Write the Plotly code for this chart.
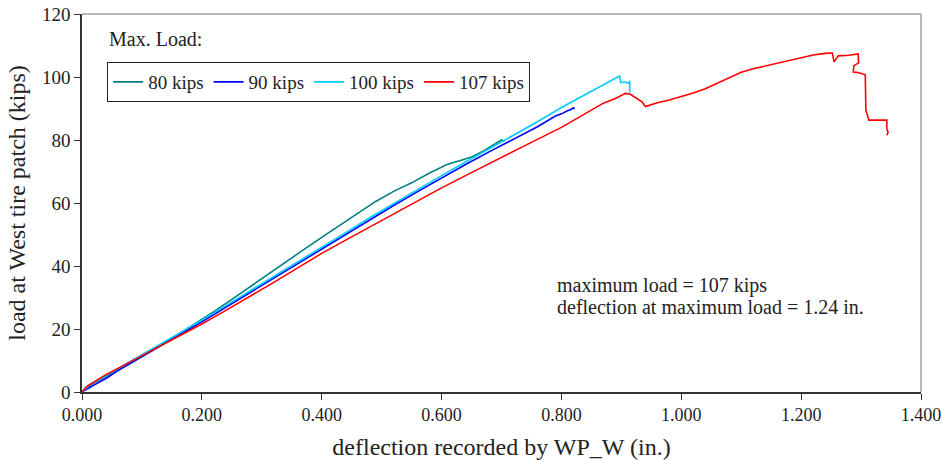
import plotly.graph_objects as go

# --- load vs deflection data ---
x_80 = [0, 0.005, 0.01, 0.02, 0.04, 0.06, 0.08, 0.1, 0.13, 0.16, 0.19, 0.22, 0.25, 0.28, 0.31,
        0.34, 0.37, 0.40, 0.43, 0.46, 0.49, 0.52, 0.55, 0.58, 0.61, 0.63, 0.65, 0.67, 0.69, 0.70, 0.705]
y_80 = [0, 0.8, 1.5, 2.8, 5, 7, 9, 11.2, 14.6, 18.2, 21.8, 25.5, 29.4, 33.4, 37.3,
        41.2, 45.2, 49.1, 52.9, 56.8, 60.5, 63.7, 66.4, 69.5, 72.3, 73.4, 74.6, 76.5, 78.8, 80, 79.6]

x_90 = [0, 0.005, 0.01, 0.02, 0.04, 0.06, 0.08, 0.1, 0.13, 0.16, 0.2, 0.24, 0.28, 0.32, 0.36,
        0.40, 0.44, 0.48, 0.52, 0.56, 0.60, 0.64, 0.68, 0.72, 0.76, 0.79, 0.80, 0.81, 0.815, 0.82, 0.822]
y_90 = [0, 0.5, 1, 2.2, 4.3, 6.8, 9, 11.2, 14.4, 17.8, 22.3, 26.9, 31.5, 36.1, 40.7,
        45.3, 50, 54.7, 59.2, 63.6, 68, 72.2, 76.3, 80.2, 84.2, 87.6, 88.3, 89.3, 89.6, 90.2, 89.8]

x_100 = [0, 0.005, 0.01, 0.02, 0.04, 0.06, 0.08, 0.1, 0.13, 0.16, 0.2, 0.24, 0.28, 0.32, 0.36,
         0.40, 0.44, 0.48, 0.52, 0.56, 0.60, 0.64, 0.68, 0.72, 0.76, 0.80, 0.84, 0.87, 0.89,
         0.897, 0.899, 0.905, 0.913, 0.914, 0.914]
y_100 = [0, 1, 1.8, 3, 5.2, 7.3, 9.4, 11.6, 14.9, 18.3, 22.8, 27.4, 32, 36.6, 41.2,
         45.9, 50.6, 55.3, 59.8, 64.3, 68.7, 73, 77.2, 81.4, 85.8, 90.3, 94.4, 97.5, 99.5,
         100.3, 98.2, 98.4, 98, 98.8, 95]

x_107 = [0, 0.005, 0.01, 0.02, 0.04, 0.06, 0.08, 0.1, 0.13, 0.16, 0.2, 0.24, 0.28, 0.32, 0.36,
         0.40, 0.44, 0.48, 0.52, 0.56, 0.60, 0.64, 0.68, 0.72, 0.76, 0.80, 0.84, 0.87, 0.89,
         0.907, 0.915, 0.925, 0.935, 0.940, 0.96, 0.98, 1.00, 1.02, 1.04, 1.06, 1.08, 1.10,
         1.12, 1.14, 1.16, 1.18, 1.20, 1.22, 1.24, 1.252, 1.255, 1.262, 1.28, 1.295, 1.296,
         1.288, 1.287, 1.295, 1.307, 1.307, 1.308, 1.313, 1.343, 1.343, 1.345, 1.343]
y_107 = [0, 1.2, 2, 3.2, 5.5, 7.5, 9.5, 11.5, 14.5, 17.6, 21.6, 25.9, 30.3, 34.8, 39.4,
         44, 48.2, 52.4, 56.6, 60.7, 64.8, 68.7, 72.6, 76.4, 80.2, 84, 88.3, 91.7, 93.2,
         94.8, 94.5, 93.3, 92, 90.6, 91.8, 92.7, 93.8, 94.9, 96.3, 98, 99.8, 101.5,
         102.6, 103.5, 104.4, 105.3, 106.2, 107, 107.5, 107.6, 104.8, 106.7, 106.9, 107.3, 104.5,
         103.6, 101.6, 101.4, 100.7, 93, 89.5, 86.3, 86.3, 83.5, 82.4, 81.5]

series = [
    ("80 kips", x_80, y_80, "#008080"),
    ("90 kips", x_90, y_90, "#0000ff"),
    ("100 kips", x_100, y_100, "#00ccff"),
    ("107 kips", x_107, y_107, "#ff0000"),
]

FONT = "Liberation Serif, Times New Roman, serif"
FS = 20

fig = go.Figure()
for name, xs, ys, col in series:
    fig.add_trace(go.Scatter(x=xs, y=ys, mode="lines", name=name,
                             line=dict(color=col, width=1.6)))

# gray frame on top and right, like the original
fig.add_shape(type="line", xref="paper", yref="paper", x0=0, x1=1, y0=1, y1=1,
              line=dict(color="#a0a0a0", width=1.5))
fig.add_shape(type="line", xref="paper", yref="paper", x0=1, x1=1, y0=0, y1=1,
              line=dict(color="#a0a0a0", width=1.5))

fig.add_annotation(xref="paper", yref="paper", x=0.03, y=0.934, xanchor="left", yanchor="middle",
                   text="Max. Load:", showarrow=False)
fig.add_annotation(xref="paper", yref="paper", x=0.564, y=0.283, xanchor="left", yanchor="middle",
                   text="maximum load = 107 kips", showarrow=False)
fig.add_annotation(xref="paper", yref="paper", x=0.564, y=0.225, xanchor="left", yanchor="middle",
                   text="deflection at maximum load = 1.24 in.", showarrow=False)

fig.update_layout(
    width=942, height=460,
    margin=dict(l=82, r=21, t=14, b=68),
    paper_bgcolor="white", plot_bgcolor="white",
    font=dict(family=FONT, size=FS, color="#222"),
    showlegend=True,
    legend=dict(orientation="h", x=0.03, y=0.873, xanchor="left", yanchor="top",
                bordercolor="#222", borderwidth=1, bgcolor="white",
                font=dict(size=19), itemwidth=30, tracegroupgap=0),
    xaxis=dict(range=[0, 1.4], tickvals=[0, 0.2, 0.4, 0.6, 0.8, 1.0, 1.2, 1.4], tickformat=".3f",
               showgrid=False, zeroline=False, showline=True, linecolor="#333", linewidth=1.5,
               ticks="outside", ticklen=6, tickcolor="#333", automargin=False,
               ticklabeloverflow="allow", tickfont=dict(size=18),
               title=dict(text="deflection recorded by WP_W (in.)", standoff=14)),
    yaxis=dict(range=[0, 120], tickvals=[0, 20, 40, 60, 80, 100, 120],
               showgrid=False, zeroline=False, showline=True, linecolor="#333", linewidth=1.5,
               ticks="outside", ticklen=6, tickcolor="#333", automargin=False,
               ticklabeloverflow="allow", tickfont=dict(size=19),
               title=dict(text="load at West tire patch (kips)", standoff=10)),
)

# drop the page's default 8px body margin so the 942x460 figure fills the window
fig.write_html("out.html", config={"displayModeBar": False},
               post_script="document.body.style.margin='0px';")
